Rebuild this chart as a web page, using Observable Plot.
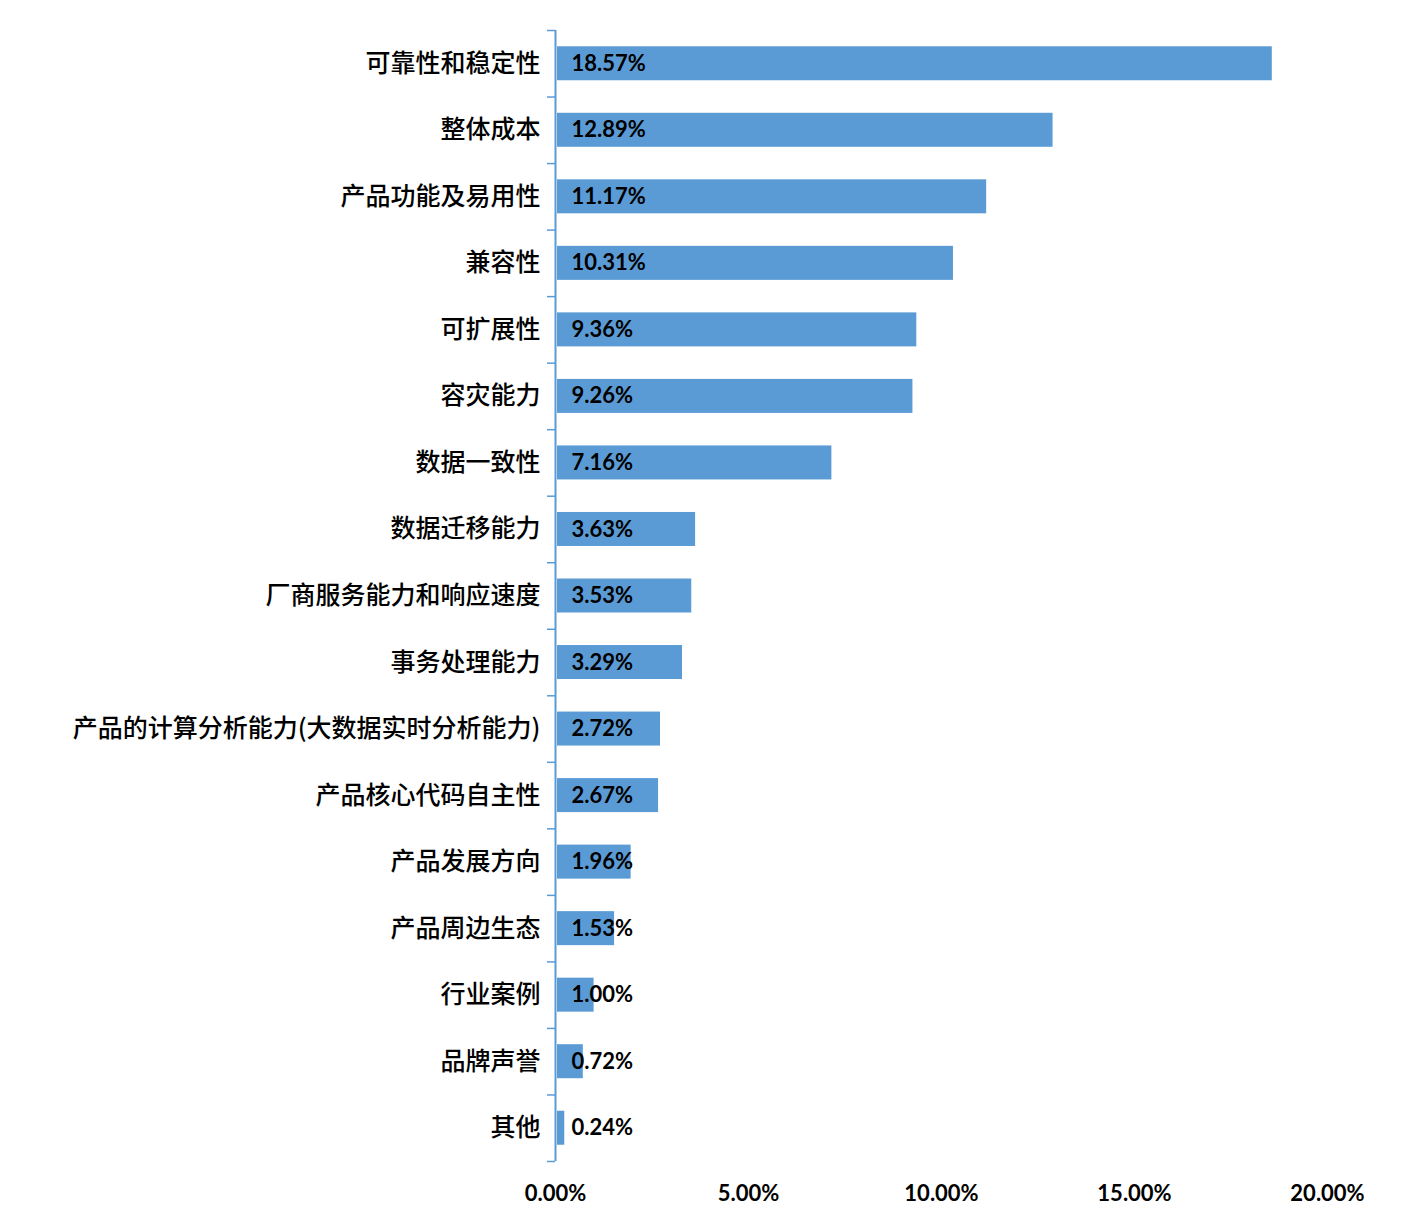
<!DOCTYPE html>
<html>
<head>
<meta charset="utf-8">
<script src="https://cdn.jsdelivr.net/npm/d3@7"></script>
<script src="https://cdn.jsdelivr.net/npm/@observablehq/plot@0.6"></script>
<style>
  html, body { margin: 0; padding: 0; background: #fff; }
  #chart { width: 1425px; height: 1229px; }
</style>
</head>
<body>
<div id="chart"></div>
<script>
const categories = [
  "可靠性和稳定性",
  "整体成本",
  "产品功能及易用性",
  "兼容性",
  "可扩展性",
  "容灾能力",
  "数据一致性",
  "数据迁移能力",
  "厂商服务能力和响应速度",
  "事务处理能力",
  "产品的计算分析能力(大数据实时分析能力)",
  "产品核心代码自主性",
  "产品发展方向",
  "产品周边生态",
  "行业案例",
  "品牌声誉",
  "其他"
];
const values = [18.57, 12.89, 11.17, 10.31, 9.36, 9.26, 7.16, 3.63, 3.53, 3.29, 2.72, 2.67, 1.96, 1.53, 1.00, 0.72, 0.24];
const xTicks = [0, 5, 10, 15, 20];

const data = categories.map((c, i) => ({category: c, value: values[i]}));

const width = 1425, height = 1229;
const marginTop = 30, marginBottom = 68, marginLeft = 555, marginRight = 98;
const step = (height - marginTop - marginBottom) / categories.length;
const barH = 34;
const inset = (step - barH) / 2;
const blue = "#5B9BD5";
const fmt = d => d.toFixed(2) + "%";

const chart = Plot.plot({
  width, height, marginTop, marginBottom, marginLeft, marginRight,
  style: {background: "#fff", color: "#000"},
  x: {domain: [0, 20]},
  y: {domain: categories, padding: 0, round: false},
  marks: [
    Plot.barX(data, {y: "category", x: "value", fill: blue, insetTop: inset, insetBottom: inset, insetLeft: 2}),
    Plot.text(data, {y: "category", x: 0, text: d => fmt(d.value), dx: 16, textAnchor: "start",
      fontSize: 22, fontWeight: "bold", fontFamily: "Lato, 'Open Sans', sans-serif", fill: "#000"}),
    Plot.axisY({tickSize: 0, tickPadding: 15, fontSize: 25, fontWeight: 500, fontFamily: "'Noto Sans CJK SC', sans-serif", label: null}),
    Plot.axisY({tickSize: 8, text: null, dy: -step / 2, stroke: blue, strokeWidth: 1.5, label: null}),
    Plot.axisY([categories[categories.length - 1]], {tickSize: 8, text: null, dy: step / 2, stroke: blue, strokeWidth: 1.5, label: null}),
    Plot.ruleX([0], {stroke: blue, strokeWidth: 2}),
    Plot.axisX({ticks: xTicks, tickSize: 0, tickPadding: 24, tickFormat: fmt, fontSize: 22, fontWeight: "bold",
      fontFamily: "Lato, 'Open Sans', sans-serif", label: null})
  ]
});
document.getElementById("chart").appendChild(chart);
</script>
</body>
</html>
